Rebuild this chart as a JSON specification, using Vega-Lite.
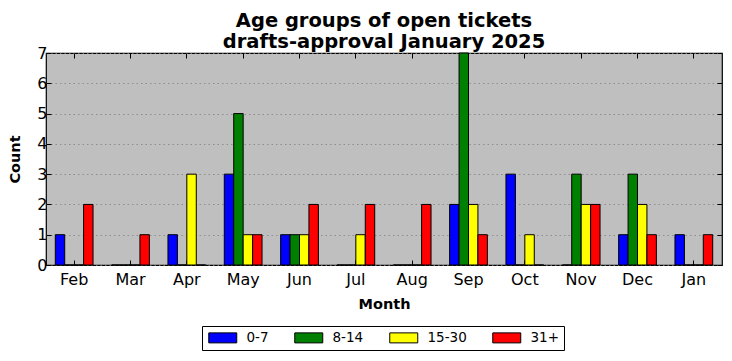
{
  "$schema": "https://vega.github.io/schema/vega-lite/v6.json",
  "autosize": "none",
  "width": 676,
  "height": 212,
  "padding": {"left": 46, "top": 53, "right": 10, "bottom": 96},
  "background": "white",
  "title": {
    "text": ["Age groups of open tickets", "drafts-approval January 2025"],
    "font": "DejaVu Sans",
    "fontSize": 19.5,
    "fontWeight": "bold",
    "color": "black",
    "anchor": "middle",
    "frame": "group",
    "offset": -7,
    "lineHeight": 21
  },
  "config": {
    "font": "DejaVu Sans",
    "view": {"fill": "#bfbfbf", "stroke": "black", "strokeWidth": 1.2},
    "axis": {
      "domain": false,
      "labelFont": "DejaVu Sans",
      "labelFontSize": 16,
      "labelColor": "black",
      "titleFont": "DejaVu Sans",
      "titleFontSize": 14.5,
      "titleFontWeight": "bold",
      "titleColor": "black",
      "tickColor": "black",
      "tickSize": -5,
      "tickWidth": 1
    }
  },
  "data": {
    "values": [
      {"month": "Feb", "age": "0-7", "count": 1}, {"month": "Feb", "age": "8-14", "count": 0}, {"month": "Feb", "age": "15-30", "count": 0}, {"month": "Feb", "age": "31+", "count": 2},
      {"month": "Mar", "age": "0-7", "count": 0}, {"month": "Mar", "age": "8-14", "count": 0}, {"month": "Mar", "age": "15-30", "count": 0}, {"month": "Mar", "age": "31+", "count": 1},
      {"month": "Apr", "age": "0-7", "count": 1}, {"month": "Apr", "age": "8-14", "count": 0}, {"month": "Apr", "age": "15-30", "count": 3}, {"month": "Apr", "age": "31+", "count": 0},
      {"month": "May", "age": "0-7", "count": 3}, {"month": "May", "age": "8-14", "count": 5}, {"month": "May", "age": "15-30", "count": 1}, {"month": "May", "age": "31+", "count": 1},
      {"month": "Jun", "age": "0-7", "count": 1}, {"month": "Jun", "age": "8-14", "count": 1}, {"month": "Jun", "age": "15-30", "count": 1}, {"month": "Jun", "age": "31+", "count": 2},
      {"month": "Jul", "age": "0-7", "count": 0}, {"month": "Jul", "age": "8-14", "count": 0}, {"month": "Jul", "age": "15-30", "count": 1}, {"month": "Jul", "age": "31+", "count": 2},
      {"month": "Aug", "age": "0-7", "count": 0}, {"month": "Aug", "age": "8-14", "count": 0}, {"month": "Aug", "age": "15-30", "count": 0}, {"month": "Aug", "age": "31+", "count": 2},
      {"month": "Sep", "age": "0-7", "count": 2}, {"month": "Sep", "age": "8-14", "count": 7}, {"month": "Sep", "age": "15-30", "count": 2}, {"month": "Sep", "age": "31+", "count": 1},
      {"month": "Oct", "age": "0-7", "count": 3}, {"month": "Oct", "age": "8-14", "count": 0}, {"month": "Oct", "age": "15-30", "count": 1}, {"month": "Oct", "age": "31+", "count": 0},
      {"month": "Nov", "age": "0-7", "count": 0}, {"month": "Nov", "age": "8-14", "count": 3}, {"month": "Nov", "age": "15-30", "count": 2}, {"month": "Nov", "age": "31+", "count": 2},
      {"month": "Dec", "age": "0-7", "count": 1}, {"month": "Dec", "age": "8-14", "count": 3}, {"month": "Dec", "age": "15-30", "count": 2}, {"month": "Dec", "age": "31+", "count": 1},
      {"month": "Jan", "age": "0-7", "count": 1}, {"month": "Jan", "age": "8-14", "count": 0}, {"month": "Jan", "age": "15-30", "count": 0}, {"month": "Jan", "age": "31+", "count": 1}
    ]
  },
  "layer": [
    {
      "mark": {"type": "bar", "stroke": "black", "strokeWidth": 1},
      "encoding": {
        "x": {
          "field": "month", "type": "nominal",
          "sort": ["Feb","Mar","Apr","May","Jun","Jul","Aug","Sep","Oct","Nov","Dec","Jan"],
          "scale": {"paddingInner": 0.33, "paddingOuter": 0.165},
          "axis": {"title": "Month", "labelAngle": 0, "labelPadding": 11, "titlePadding": 10, "orient": "bottom"}
        },
        "xOffset": {
          "field": "age", "type": "nominal",
          "sort": ["0-7","8-14","15-30","31+"],
          "scale": {"paddingInner": 0, "paddingOuter": 0}
        },
        "y": {
          "field": "count", "type": "quantitative",
          "scale": {"domain": [0, 7], "nice": false},
          "axis": {
            "title": "Count", "values": [0,1,2,3,4,5,6,7], "labelPadding": 4, "titlePadding": 14,
            "grid": true, "gridColor": "#808080", "gridDash": [1.5, 3], "gridWidth": 0.8, "orient": "left"
          }
        },
        "color": {
          "field": "age", "type": "nominal",
          "sort": ["0-7","8-14","15-30","31+"],
          "scale": {"domain": ["0-7","8-14","15-30","31+"], "range": ["#0000ff","#008000","#ffff00","#ff0000"]},
          "legend": {
            "title": null,
            "orient": "none",
            "legendX": 156,
            "legendY": 273,
            "direction": "horizontal",
            "strokeColor": "black",
            "fillColor": "white",
            "padding": 5,
            "symbolType": "M-1,-1H4.6V1H-1Z",
            "symbolSize": 100,
            "symbolStrokeColor": "black",
            "symbolStrokeWidth": 1,
            "symbolOpacity": 1,
            "labelFont": "DejaVu Sans",
            "labelFontSize": 13.5,
            "labelColor": "black",
            "labelOffset": 26,
            "columnPadding": 23
          }
        }
      }
    },
    {
      "mark": {"type": "point", "opacity": 0, "size": 1},
      "encoding": {
        "x": {
          "field": "month", "type": "nominal",
          "sort": ["Feb","Mar","Apr","May","Jun","Jul","Aug","Sep","Oct","Nov","Dec","Jan"],
          "axis": {"orient": "top", "labels": false, "title": null, "minExtent": 0, "maxExtent": 0}
        },
        "y": {
          "field": "count", "type": "quantitative",
          "axis": {"orient": "right", "labels": false, "title": null, "values": [0,1,2,3,4,5,6,7], "grid": false, "minExtent": 0, "maxExtent": 0}
        }
      }
    }
  ],
  "resolve": {"axis": {"x": "independent", "y": "independent"}}
}
